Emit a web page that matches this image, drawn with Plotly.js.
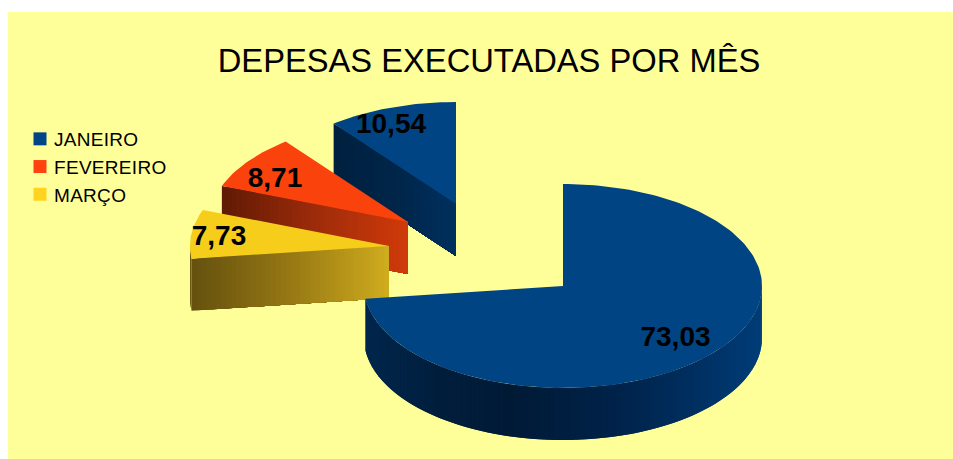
<!DOCTYPE html>
<html>
<head>
<meta charset="utf-8">
<script src="https://cdn.plot.ly/plotly-3.0.1.min.js"></script>
<style>
html,body{margin:0;padding:0;background:#fff;}
#chart{width:953px;height:459px;}
.legend .legendtext{transform:translateX(-6px);letter-spacing:.3px;}
</style>
</head>
<body>
<div id="chart"></div>
<script>
// Data, clockwise from 12 o'clock as drawn in the reference
const sliceValues = [73.03, 7.73, 8.71, 10.54];
const sliceLabels = ['73,03', '7,73', '8,71', '10,54'];
const legendNames = ['JANEIRO', 'FEVEREIRO', 'MARÇO'];
const legendColors = ['#004586', '#ff420e', '#ffd320'];
const chartTitle = 'DEPESAS EXECUTADAS POR MÊS';

// Styling and geometry of the tilted, exploded pie (pixel-like axis units)
const faceColors = ['#004483', '#f6cd1a', '#fa420c', '#004483'];
const apexX = [563, 389, 408, 456];
const apexY = [286, 246, 222, 204];
const labelX = [675.5, 219, 275, 391];
const labelY = [339, 238, 180, 126];
const RX = 199, RY = 102, DEPTH = 52;
// wall shading: [x, [r,g,b]] stops
const wallStops = [
  [[365,[0,38,77]],[440,[0,30,60]],[510,[0,26,54]],[620,[0,35,74]],[700,[0,48,98]],[762,[0,61,120]]],
  [[190,[100,80,14]],[290,[150,120,20]],[389,[208,172,30]]],
  [[222,[96,26,5]],[320,[160,44,10]],[408,[208,58,10]]],
  [[333,[0,32,63]],[400,[0,38,74]],[456,[0,48,95]]]
];

function wallColor(i, x) {
  const s = wallStops[i];
  if (x <= s[0][0]) return 'rgb(' + s[0][1].join(',') + ')';
  for (let k = 1; k < s.length; k++) {
    if (x <= s[k][0]) {
      const t = (x - s[k-1][0]) / (s[k][0] - s[k-1][0]);
      const c = s[k-1][1].map((v, j) => Math.round(v + t * (s[k][1][j] - v)));
      return 'rgb(' + c.join(',') + ')';
    }
  }
  return 'rgb(' + s[s.length-1][1].join(',') + ')';
}

const total = sliceValues.reduce((a, b) => a + b, 0);
function rim(i, deg) {
  const a = deg * Math.PI / 180;
  return [apexX[i] + RX * Math.sin(a), apexY[i] - RY * Math.cos(a)];
}
function poly(xs, ys, color) {
  return {x: xs, y: ys, type: 'scatter', mode: 'lines', fill: 'toself', fillcolor: color,
    line: {color: color, width: 0}, hoverinfo: 'skip', showlegend: false};
}

const traces = [];
// legend entries (points sit outside the visible range; only the legend key is seen)
legendNames.forEach((n, i) => traces.push({
  x: [-100], y: [-100], type: 'scatter', mode: 'markers', name: n,
  marker: {symbol: 'square', size: 13, color: legendColors[i]}, hoverinfo: 'skip'
}));

// angle ranges
let acc = 0;
const ranges = sliceValues.map(v => { const s = acc; acc += v / total * 360; return [s, acc]; });

// paint back-most slice first
[3, 2, 1, 0].forEach(i => {
  const [a0, a1] = ranges[i];
  // cut face from the start edge to the apex, visible on the left half;
  // each band runs to the apex so the next band paints over it without a seam
  if (a0 > 180) {
    const p = rim(i, a0), n = 40;
    for (let k = 0; k < n; k++) {
      const xa = p[0] + (apexX[i] - p[0]) * k / n, ya = p[1] + (apexY[i] - p[1]) * k / n;
      const xm = p[0] + (apexX[i] - p[0]) * (k + 0.5) / n;
      traces.push(poly([xa, apexX[i], apexX[i], xa, xa], [ya, apexY[i], apexY[i] + DEPTH, ya + DEPTH, ya], wallColor(i, xm)));
    }
  }
  // outer rim wall, front half of the ellipse; bands overlap the next one
  const r0 = Math.max(a0, 90), r1 = Math.min(a1, 270);
  if (r1 > r0) {
    const n = Math.max(2, Math.ceil((r1 - r0) / 1.5));
    for (let k = 0; k < n; k++) {
      const d0 = r0 + (r1 - r0) * k / n;
      const d1 = r0 + (r1 - r0) * Math.min(n, k + 2) / n;
      const dm = r0 + (r1 - r0) * (k + 0.5) / n;
      const xs = [], yt = [];
      for (let d = d0; d <= d1 + 1e-6; d += (d1 - d0) / 4) { const p = rim(i, d); xs.push(p[0]); yt.push(p[1]); }
      traces.push(poly(xs.concat(xs.slice().reverse(), [xs[0]]),
        yt.concat(yt.slice().reverse().map(v => v + DEPTH), [yt[0]]), wallColor(i, rim(i, dm)[0])));
    }
  }
  // top face
  const xs = [apexX[i]], ys = [apexY[i]], m = Math.ceil((a1 - a0) / 1.5);
  for (let k = 0; k <= m; k++) {
    const p = rim(i, a0 + (a1 - a0) * k / m);
    xs.push(p[0]); ys.push(p[1]);
  }
  xs.push(apexX[i]); ys.push(apexY[i]);
  traces.push(poly(xs, ys, faceColors[i]));
});

// value labels
traces.push({
  x: labelX, y: labelY, text: sliceLabels, type: 'scatter', mode: 'text',
  textposition: 'middle center',
  textfont: {family: 'Liberation Sans, Arial, sans-serif', size: 28, color: '#000000', weight: 700},
  hoverinfo: 'skip', showlegend: false
});

const layout = {
  width: 953, height: 459,
  margin: {l: 8, r: 0, t: 12, b: 0},
  paper_bgcolor: '#ffffff', plot_bgcolor: '#ffff99',
  font: {family: 'Liberation Sans, Arial, sans-serif', color: '#000000'},
  title: {text: chartTitle, font: {size: 32.7, family: 'Liberation Sans, Arial, sans-serif', color: '#000'},
    x: 489 / 953, xref: 'container', xanchor: 'center', y: 1 - 61 / 459, yref: 'container', yanchor: 'middle'},
  xaxis: {range: [8, 953], visible: false, fixedrange: true},
  yaxis: {range: [459, 12], visible: false, fixedrange: true},
  showlegend: true,
  legend: {x: 12 / 945, xanchor: 'left', y: 1 - (120 - 12) / 447, yanchor: 'top',
    bgcolor: 'rgba(0,0,0,0)', borderwidth: 0, traceorder: 'normal',
    font: {size: 19, family: 'Liberation Sans, Arial, sans-serif', color: '#000'}}
};

Plotly.newPlot('chart', traces, layout, {displayModeBar: false, responsive: false});
</script>
</body>
</html>
